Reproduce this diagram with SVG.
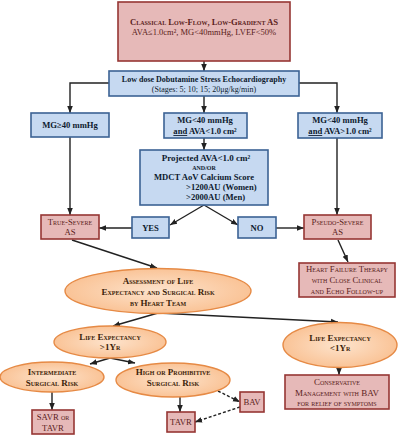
<svg xmlns="http://www.w3.org/2000/svg" width="400" height="435" viewBox="0 0 400 435">
<defs>
<marker id="ah" markerUnits="userSpaceOnUse" markerWidth="7" markerHeight="7" viewBox="0 0 10 10" refX="10" refY="5" orient="auto">
<path d="M0,1 L10,5 L0,9 Z" fill="#222"/>
</marker>
<radialGradient id="og" cx="50%" cy="50%" r="60%">
<stop offset="0" stop-color="#fde3cc"/>
<stop offset="1" stop-color="#f9bd8c"/>
</radialGradient>
</defs>
<style>
.red{fill:#e6b9b8;stroke:#963634;stroke-width:1.6}
.blue{fill:#c6d9f1;stroke:#3b6294;stroke-width:1.6}
.ora{fill:url(#og);stroke:#e68a45;stroke-width:1.4}
text{font-family:"Liberation Serif","Times New Roman",serif;text-anchor:middle}
.rt{fill:#5a1d1b;font-size:8.7px;font-variant:small-caps}
.bt{fill:#0d1a2e;font-size:8.6px;font-weight:bold}
.ot{fill:#3d1f0a;font-size:9px;font-weight:bold;font-variant:small-caps}
.c{fill:none;stroke:#222;stroke-width:1.4}
.d{stroke-dasharray:3,2}
</style>
<rect width="400" height="435" fill="#fff"/>
<g id="connectors">
<path class="c" d="M204,61 V71" marker-end="url(#ah)"/>
<path class="c" d="M109,83 H70 V113" marker-end="url(#ah)"/>
<path class="c" d="M204,96 V113" marker-end="url(#ah)"/>
<path class="c" d="M299,83 H337 V113" marker-end="url(#ah)"/>
<path class="c" d="M70,137 V215" marker-end="url(#ah)"/>
<path class="c" d="M204,138 V150" marker-end="url(#ah)"/>
<path class="c" d="M337,138 V215" marker-end="url(#ah)"/>
<path class="c" d="M204,205 L170,225" marker-end="url(#ah)"/>
<path class="c" d="M204,205 L238,225" marker-end="url(#ah)"/>
<path class="c" d="M132,228 H99" marker-end="url(#ah)"/>
<path class="c" d="M276,228 H304" marker-end="url(#ah)"/>
<path class="c" d="M72,240 L157,268" marker-end="url(#ah)"/>
<path class="c" d="M338,240 L348,262" marker-end="url(#ah)"/>
<path class="c" d="M158,313 L113,326" marker-end="url(#ah)"/>
<path class="c" d="M158,313 L338,322" marker-end="url(#ah)"/>
<path class="c" d="M110,358 L90,364" marker-end="url(#ah)"/>
<path class="c" d="M110,358 L135,363" marker-end="url(#ah)"/>
<path class="c" d="M52,392 V410" marker-end="url(#ah)"/>
<path class="c" d="M180,397 V412" marker-end="url(#ah)"/>
<path class="c" d="M339,367 V375" marker-end="url(#ah)"/>
<path class="c d" d="M218,391 L240,402" marker-end="url(#ah)"/>
<path class="c d" d="M240,407 L195,422" marker-end="url(#ah)"/>
</g>
<g id="n-top">
<rect class="red" x="118" y="2" width="172" height="59"/>
<text class="rt" x="204" y="25" font-weight="bold" style="font-size:8.6px">Classical Low-Flow, Low-Gradient AS</text>
<text x="204" y="35" fill="#5a1d1b" font-size="8.5">AVA≤1.0cm², MG&lt;40mmHg, LVEF&lt;50%</text>
</g>
<g id="n-dse">
<rect class="blue" x="109" y="71" width="190" height="25"/>
<text class="bt" x="204" y="82" style="font-size:8px">Low dose Dobutamine Stress Echocardiography</text>
<text x="204" y="92" fill="#0d1a2e" font-size="8">(Stages: 5; 10; 15; 20μg/kg/min)</text>
</g>
<g id="n-mg40">
<rect class="blue" x="31" y="113" width="78" height="24"/>
<text class="bt" x="70" y="128">MG≥40 mmHg</text>
</g>
<g id="n-mid">
<rect class="blue" x="164" y="113" width="83" height="25"/>
<text class="bt" x="205" y="123">MG&lt;40 mmHg</text>
<text class="bt" x="205" y="134"><tspan text-decoration="underline">and</tspan> AVA&lt;1.0 cm²</text>
</g>
<g id="n-right">
<rect class="blue" x="298" y="113" width="84" height="25"/>
<text class="bt" x="340" y="123">MG&lt;40 mmHg</text>
<text class="bt" x="340" y="134"><tspan text-decoration="underline">and</tspan> AVA&gt;1.0 cm²</text>
</g>
<g id="n-proj">
<rect class="blue" x="140" y="150" width="128" height="55"/>
<text class="bt" x="206" y="161" style="font-size:9px">Projected AVA&lt;1.0 cm²</text>
<text class="bt" x="204" y="170" style="font-size:6px">AND/OR</text>
<text class="bt" x="204" y="180">MDCT AoV Calcium Score</text>
<text class="bt" x="186" y="190" style="text-anchor:start">&gt;1200AU (Women)</text>
<text class="bt" x="186" y="200" style="text-anchor:start">&gt;2000AU (Men)</text>
</g>
<g id="n-yes">
<rect class="blue" x="132" y="217" width="37" height="21"/>
<text class="bt" x="150.5" y="231">YES</text>
</g>
<g id="n-no">
<rect class="blue" x="238" y="217" width="38" height="21"/>
<text class="bt" x="257" y="231">NO</text>
</g>
<g id="n-true">
<rect class="red" x="41" y="215" width="58" height="24"/>
<text class="rt" x="70" y="225">True-Severe</text>
<text class="rt" x="70" y="235">AS</text>
</g>
<g id="n-pseudo">
<rect class="red" x="304" y="215" width="67" height="24"/>
<text class="rt" x="337.5" y="225">Pseudo-Severe</text>
<text class="rt" x="337.5" y="235">AS</text>
</g>
<g id="n-hf">
<rect class="red" x="299" y="263" width="96" height="34"/>
<text class="rt" x="347" y="272">Heart Failure Therapy</text>
<text class="rt" x="347" y="283">with Close Clinical</text>
<text class="rt" x="347" y="294">and Echo Follow-up</text>
</g>
<g id="n-assess">
<ellipse class="ora" cx="158" cy="291" rx="93" ry="22.5"/>
<text class="ot" x="158" y="284">Assessment of Life</text>
<text class="ot" x="158" y="295">Expectancy and Surgical Risk</text>
<text class="ot" x="158" y="306">by Heart Team</text>
</g>
<g id="n-gt1">
<ellipse class="ora" cx="110" cy="342" rx="56" ry="16"/>
<text class="ot" x="110" y="340">Life Expectancy</text>
<text class="ot" x="110" y="350">&gt;1Yr</text>
</g>
<g id="n-lt1">
<ellipse class="ora" cx="340" cy="345" rx="57" ry="22.5"/>
<text class="ot" x="340" y="341">Life Expectancy</text>
<text class="ot" x="340" y="351">&lt;1Yr</text>
</g>
<g id="n-inter">
<ellipse class="ora" cx="52" cy="377" rx="52" ry="15"/>
<text class="ot" x="52" y="375">Intermediate</text>
<text class="ot" x="52" y="386">Surgical Risk</text>
</g>
<g id="n-high">
<ellipse class="ora" cx="173" cy="380" rx="57" ry="17"/>
<text class="ot" x="173" y="375">High or Prohibitive</text>
<text class="ot" x="173" y="386">Surgical Risk</text>
</g>
<g id="n-savr">
<rect class="red" x="32" y="410" width="42" height="24"/>
<text class="rt" x="53" y="420">SAVR or</text>
<text class="rt" x="53" y="431">TAVR</text>
</g>
<g id="n-tavr">
<rect class="red" x="167" y="412" width="28" height="20"/>
<text class="rt" x="181" y="425">TAVR</text>
</g>
<g id="n-bav">
<rect class="red" x="240" y="392" width="24" height="20"/>
<text class="rt" x="252" y="405">BAV</text>
</g>
<g id="n-cons">
<rect class="red" x="285" y="375" width="104" height="34"/>
<text class="rt" x="337" y="385" style="font-size:9px">Conservative</text>
<text class="rt" x="337" y="396" style="font-size:9px">Management with BAV</text>
<text class="rt" x="337" y="406" style="font-size:9px">for relief of symptoms</text>
</g>
</svg>
